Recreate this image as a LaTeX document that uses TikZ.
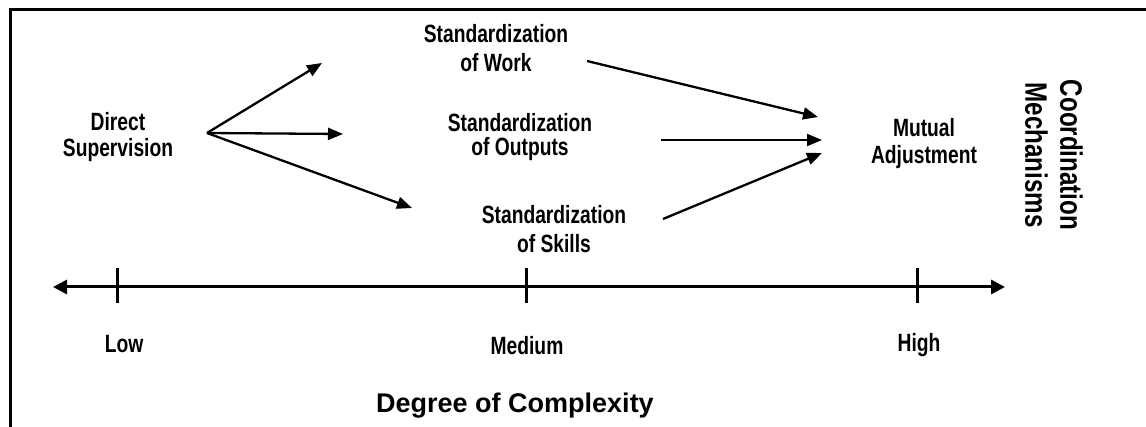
\documentclass[tikz,border=0pt]{standalone}
\usepackage{fontspec}
\setmainfont{Liberation Sans}
\newfontfamily\condfont{Liberation Sans}[FakeStretch=0.77]
\newfontfamily\coordfont{Liberation Sans}[FakeStretch=0.78]
\usetikzlibrary{arrows.meta}
\tikzset{
  lbl/.style={font=\condfont\bfseries\fontsize{25}{27}\selectfont, align=center, inner sep=0pt},
  axlbl/.style={font=\condfont\bfseries\fontsize{25}{27}\selectfont, anchor=base, inner sep=0pt},
  conn/.style={line width=2.3pt, -{Triangle[length=15pt,width=12pt]}},
  axis/.style={line width=3pt, {Triangle[length=14pt,width=14pt]}-{Triangle[length=14pt,width=14pt]}},
  tick/.style={line width=3pt},
  frame/.style={line width=3pt, line join=miter}
}
\begin{document}
\begin{tikzpicture}[x=1pt,y=1pt]
\useasboundingbox (0,0) rectangle (1146,-427);
% frame
\coordinate (fbl) at (10,-427);
\coordinate (ftl) at (10,-10);
\coordinate (ftr) at (1146,-10);
\draw[frame] (fbl) -- (ftl) -- (ftr);

% labels
\node[lbl] (ds) at (118,-137.5) {Direct\\[-1pt]Supervision};
\node[lbl] (sw) at (496,-48.5) {Standardization\\[2pt]of Work};
\node[lbl] (so) at (520,-137.5) {Standardization\\[-3pt]of Outputs};
\node[lbl] (ss) at (554,-229.5) {Standardization\\[2pt]of Skills};
\node[lbl] (ma) at (924,-143.5) {Mutual\\Adjustment};
\node[font=\coordfont\bfseries\fontsize{31}{35}\selectfont, align=center, inner sep=0pt, rotate=-90] (cm) at (1054,-155) {Coordination\\Mechanisms};

% connector points
\coordinate (dsout) at (207,-133);
\coordinate (swin) at (322,-63);
\coordinate (soin) at (343,-134);
\coordinate (ssin) at (412,-208);
\coordinate (swout) at (587,-61);
\coordinate (soout) at (661,-140);
\coordinate (ssout) at (663,-219);
\coordinate (ma1) at (818,-117);
\coordinate (ma2) at (822,-140);
\coordinate (ma3) at (822,-153);

\draw[conn] (dsout) -- (swin);
\draw[conn] (dsout) -- (soin);
\draw[conn] (dsout) -- (ssin);
\draw[conn] (swout) -- (ma1);
\draw[conn] (soout) -- (ma2);
\draw[conn] (ssout) -- (ma3);

% axis
\coordinate (axl) at (53,-287);
\coordinate (axr) at (1005,-287);
\draw[axis] (axl) -- (axr);
\coordinate (tlt) at (117,-268); \coordinate (tlb) at (117,-303);
\coordinate (tmt) at (526,-268); \coordinate (tmb) at (526,-303);
\coordinate (tht) at (917,-268); \coordinate (thb) at (917,-303);
\draw[tick] (tlt) -- (tlb);
\draw[tick] (tmt) -- (tmb);
\draw[tick] (tht) -- (thb);

\node[axlbl] (low) at (124,-353) {Low};
\node[axlbl] (med) at (527,-355) {Medium};
\node[axlbl] (high) at (919,-352) {High};
\node[font=\bfseries\fontsize{27}{30}\selectfont, anchor=base, inner sep=0pt] (doc) at (515,-413) {Degree of Complexity};
\end{tikzpicture}
\end{document}
